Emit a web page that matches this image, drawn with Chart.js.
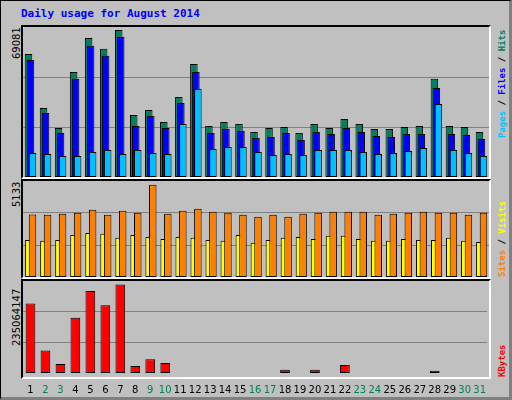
<!DOCTYPE html>
<html>
<head>
<meta charset="utf-8">
<script src="https://cdn.jsdelivr.net/npm/chart.js@4"></script>
<style>
  body { margin: 0; background: #c0c0c0; }
  #frame { position: absolute; left: 0; top: 0; width: 508px; height: 396px;
           border: 1px solid #000; border-right: 3px solid #808080; border-bottom: 3px solid #808080;
           background: #c0c0c0; font-family: "DejaVu Sans Mono", monospace; overflow: hidden; }
  .title { position: absolute; left: 20px; top: 6px; color: #0000ff; font-weight: bold; font-size: 11px; }
  .panel { position: absolute; left: 20px; width: 466px; border: 2px solid; border-color: #000 #fff #fff #000; pointer-events: none; z-index: 2; }
  canvas { position: absolute; }
  .ylab { position: absolute; font-size: 10px; transform-origin: left top; transform: rotate(-90deg); white-space: nowrap; font-family: "DejaVu Sans", sans-serif; }
  .rlab { position: absolute; font-size: 9px; font-weight: bold; transform-origin: left top; transform: rotate(-90deg); white-space: nowrap; }
</style>
</head>
<body>
<div id="frame">
  <div class="title">Daily usage for August 2014</div>

  <div class="panel" style="top:24px;height:150px"></div>
  <div class="panel" style="top:178px;height:96px"></div>
  <div class="panel" style="top:278px;height:96px"></div>

  <div style="position:absolute;left:22px;top:26px;width:466px;height:150px"><canvas id="c1"></canvas></div>
  <div style="position:absolute;left:22px;top:180px;width:466px;height:96px"><canvas id="c2"></canvas></div>
  <div style="position:absolute;left:22px;top:280px;width:466px;height:118px"><canvas id="c3"></canvas></div>

  <div class="ylab" id="y1" style="left:10px;top:58px"></div>
  <div class="ylab" id="y2" style="left:10px;top:206px"></div>
  <div class="ylab" id="y3" style="left:10px;top:345px"></div>

  <div class="rlab" style="left:496px;top:137px"><span style="color:#00c0ff">Pages</span> / <span style="color:#0000ff">Files</span> / <span style="color:#00805c">Hits</span></div>
  <div class="rlab" style="left:496px;top:276px"><span style="color:#ff8000">Sites</span> / <span style="color:#ffff00">Visits</span></div>
  <div class="rlab" style="left:496px;top:376px"><span style="color:#ff0000">KBytes</span></div>
</div>

<script>
// Days of August 2014 and which ones fall on a weekend
const days = ['1','2','3','4','5','6','7','8','9','10','11','12','13','14','15','16',
              '17','18','19','20','21','22','23','24','25','26','27','28','29','30','31'];
const weekendDays = ['2','3','9','10','16','17','23','24','30','31'];

// Top panel: hits / files / pages
const hits = [57800, 32400, 23000, 49300, 65300, 60200, 69081, 29100, 31500, 25800, 37600, 53100, 24000, 25800, 24900, 21100,
              23000, 23500, 20700, 24900, 23000, 27300, 24900, 22600, 22600, 23500, 24000, 46100, 24000, 23500, 21100];
const files = [55000, 30100, 20700, 46100, 61600, 56900, 65800, 24000, 28700, 23000, 34800, 49300, 20700, 22600, 21600, 18300,
               18800, 20700, 17400, 21100, 20200, 23000, 21100, 19300, 18800, 20200, 20200, 41800, 20200, 19700, 17900];
const pages = [11300, 10800, 9900, 9900, 11800, 12700, 10800, 12700, 11300, 10800, 24900, 41400, 13200, 14100, 14100, 11800,
               10300, 10800, 10300, 12700, 12700, 12700, 11800, 10800, 11300, 12200, 13600, 34300, 12700, 11300, 9900];

// Middle panel: visits / sites
const visits = [3480, 3460, 3520, 3570, 3740, 3460, 3680, 3570, 5133, 3520, 3680, 3790, 3630, 3570, 3460, 3350,
                3460, 3350, 3520, 3570, 3630, 3630, 3630, 3460, 3520, 3570, 3630, 3570, 3570, 3460, 3570];
const sites = [2060, 2010, 2060, 2340, 2450, 2400, 2180, 2340, 2230, 2120, 2230, 2180, 2060, 2010, 2340, 1900,
               2060, 2180, 2230, 2120, 2290, 2290, 2120, 2010, 2010, 2120, 2060, 2060, 2180, 2010, 1950];

// Bottom panel: kbytes
const kbytes = [184800000, 59600000, 23900000, 146500000, 218000000, 179700000, 235064147, 18700000, 36600000, 26400000,
                300000, 300000, 300000, 300000, 300000, 300000, 300000, 8500000, 300000, 8500000, 300000, 21300000,
                300000, 300000, 300000, 300000, 300000, 6000000, 300000, 300000, 300000];

// Panel maxima shown as the rotated labels
const maxHits = 69081;
const maxVisits = 5133;
const maxKbytes = 235064147;

document.getElementById('y1').textContent = maxHits;
document.getElementById('y2').textContent = maxVisits;
document.getElementById('y3').textContent = maxKbytes;

// Nudge each dataset's bars sideways by a few pixels so they overlap like the original
const shiftPlugin = {
    id: 'shift',
    afterDatasetsUpdate(chart) {
        chart.data.datasets.forEach((ds, i) => {
            const s = ds.shift || 0;
            chart.getDatasetMeta(i).data.forEach(el => { el.x += s; });
        });
    }
};

function bar(data, color, shift, width, order) {
    return {
        data: data, backgroundColor: color, borderColor: '#000', borderWidth: 1,
        borderSkipped: false, shift: shift, barPercentage: width, categoryPercentage: 1,
        grouped: false, order: order
    };
}

function makeChart(id, datasets, max, showX) {
    return new Chart(document.getElementById(id), {
        type: 'bar',
        data: { labels: days, datasets: datasets },
        options: {
            responsive: true, maintainAspectRatio: false, animation: false,
            layout: { padding: 0 },
            plugins: { legend: { display: false }, tooltip: { enabled: false } },
            scales: {
                x: {
                    display: showX,
                    grid: { display: false },
                    border: { display: false },
                    ticks: {
                        autoSkip: false, maxRotation: 0, padding: 3,
                        font: { family: 'DejaVu Sans', size: 10 },
                        color: ctx => weekendDays.includes(days[ctx.index]) ? '#00805c' : '#000'
                    }
                },
                y: {
                    min: 0, max: max,
                    border: { display: false },
                    grid: { color: '#808080', lineWidth: 1, drawTicks: false },
                    ticks: { display: false },
                    // gridlines at one and two thirds of the panel height
                    afterBuildTicks: scale => {
                        scale.ticks = [max / 3, max * 2 / 3].map(v => ({ value: v }));
                    }
                }
            }
        },
        plugins: [shiftPlugin]
    });
}

makeChart('c1', [
    bar(hits, '#00805c', -2, 0.5, 3),
    bar(files, '#0000ff', 0, 0.5, 2),
    bar(pages, '#00c0ff', 2, 0.5, 1)
], maxHits * 1.02, false);

makeChart('c2', [
    bar(sites, '#ffff00', -2, 0.45, 2),
    bar(visits, '#ff8000', 2, 0.5, 1)
], maxVisits * 1.04, false);

makeChart('c3', [
    bar(kbytes, '#ff0000', 0, 0.65, 1)
], maxKbytes * 1.04, true);
</script>
</body>
</html>
